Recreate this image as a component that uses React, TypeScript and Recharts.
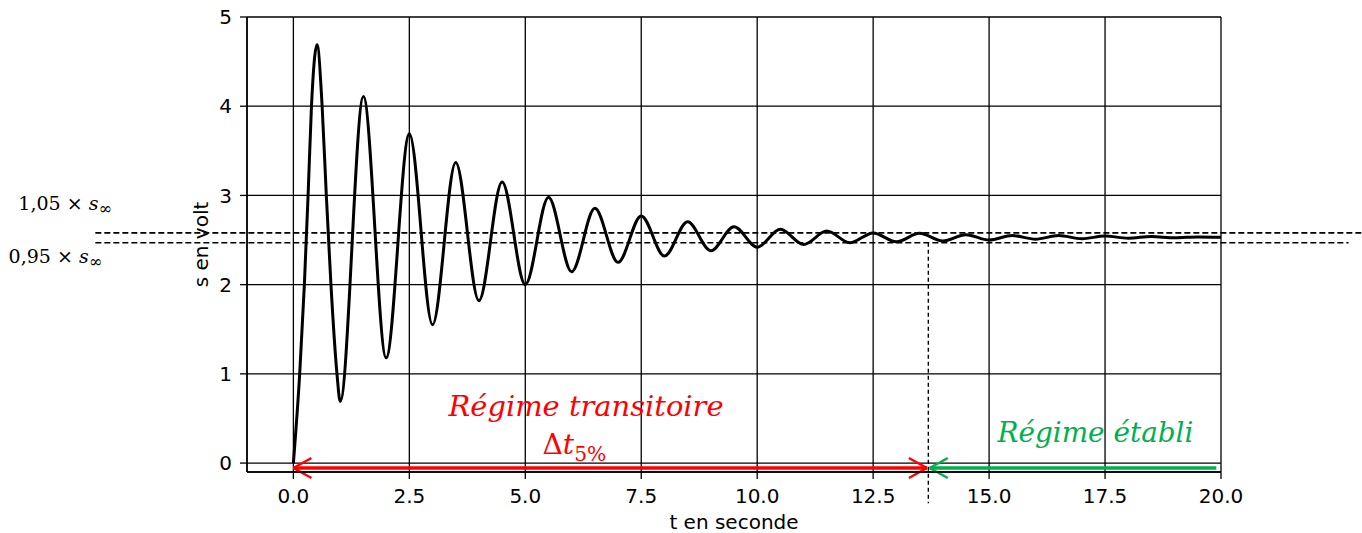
import React from "react"
import { LineChart, Line, XAxis, YAxis, CartesianGrid, ReferenceLine, ReferenceDot } from "recharts"

// peaks, troughs and a few points on the first swing
const timeValues = [
  0, 0.136, 0.237, 0.317, 0.39, 0.51, 0.62, 0.71, 0.81, 0.94, 1.01,
  1.51, 2.0, 2.5, 3.0, 3.5, 4.0, 4.5, 5.0, 5.5, 6.0, 6.5, 7.0, 7.5, 8.0,
  8.5, 9.0, 9.5, 10.0, 10.5, 11.0, 11.5, 12.0, 12.5, 13.0, 13.5, 14.0,
  14.5, 15.0, 15.5, 16.0, 16.5, 17.0, 17.5, 18.0, 18.5, 19.0, 19.5, 20.0,
]
const signalValues = [
  0, 1.0, 2.0, 3.0, 4.0, 4.69, 4.0, 3.0, 2.0, 1.0, 0.69,
  4.11, 1.18, 3.69, 1.55, 3.37, 1.82, 3.15, 2.0, 2.98, 2.145, 2.855, 2.25, 2.77, 2.32,
  2.705, 2.38, 2.65, 2.42, 2.62, 2.45, 2.6, 2.47, 2.58, 2.48, 2.575, 2.49,
  2.56, 2.5, 2.55, 2.51, 2.55, 2.515, 2.545, 2.52, 2.54, 2.525, 2.535, 2.53,
]
const xTicks = [0, 2.5, 5, 7.5, 10, 12.5, 15, 17.5, 20]
const yTicks = [0, 1, 2, 3, 4, 5]

const bandHigh = 2.58
const bandLow = 2.47
const settlingTime = 13.69

const data = timeValues.map((t, i) => ({ t, s: signalValues[i] }))

const RED = "#ff0000"
const GREEN = "#00b050"
const SERIF = "'DejaVu Serif', serif"
const SANS = "'DejaVu Sans', sans-serif"

type Part = { t: string; italic?: boolean; sub?: boolean }

function MathNote(props: any) {
  const { viewBox, parts, fs, color, w, anchor = "start", subScale = 0.72 } = props
  if (!viewBox) return null
  let cur = 0
  return (
    <text
      x={viewBox.x}
      y={viewBox.y}
      textAnchor={anchor}
      fontFamily={SERIF}
      fontSize={fs}
      fill={color}
      textLength={w}
      lengthAdjust={w ? "spacingAndGlyphs" : undefined}
    >
      {(parts as Part[]).map((p, i) => {
        const target = p.sub ? fs * 0.24 : 0
        const dy = target - cur
        cur = target
        return (
          <tspan
            key={i}
            dy={dy}
            fontStyle={p.italic ? "italic" : "normal"}
            fontSize={p.sub ? fs * subScale : fs}
          >
            {p.t}
          </tspan>
        )
      })}
    </text>
  )
}

function arrowHead(tipX: number, tipY: number, dir: number, color: string, key: string) {
  const dx = 0.39 * dir
  const dy = 0.112
  return [
    <ReferenceLine key={key + "a"} segment={[{ x: tipX, y: tipY }, { x: tipX + dx, y: tipY + dy }]}
      stroke={color} strokeWidth={2.5} ifOverflow="visible" />,
    <ReferenceLine key={key + "b"} segment={[{ x: tipX, y: tipY }, { x: tipX + dx, y: tipY - dy }]}
      stroke={color} strokeWidth={2.5} ifOverflow="visible" />,
  ]
}

export default function App() {
  const arrowY = -0.055
  return (
    <div style={{ position: "absolute", left: 0, top: 0 }}>
      <LineChart width={1362} height={533} data={data} margin={{ top: 17, right: 141, bottom: 0, left: 187 }}>
        <CartesianGrid stroke="#000" strokeWidth={1.3} />
        <XAxis
          dataKey="t"
          type="number"
          domain={[-1, 20]}
          ticks={xTicks}
          interval={0}
          allowDataOverflow
          height={61}
          tickFormatter={(v: number) => v.toFixed(1)}
          tick={{ fill: "#000", fontSize: 20, fontFamily: SANS }}
          tickSize={7}
          tickMargin={10}
          axisLine={{ stroke: "#000", strokeWidth: 1.5 }}
          tickLine={{ stroke: "#000", strokeWidth: 1.3 }}
          label={{
            content: (p: any) => (
              <text x={p.viewBox.x + p.viewBox.width / 2} y={p.viewBox.y + 57} textAnchor="middle"
                fontSize={20} fontFamily={SANS} fill="#000">t en seconde</text>
            ),
          }}
        />
        <YAxis
          type="number"
          domain={[-0.1, 5]}
          ticks={yTicks}
          interval={0}
          allowDataOverflow
          width={60}
          tick={{ fill: "#000", fontSize: 20, fontFamily: SANS }}
          tickSize={7}
          tickMargin={8}
          axisLine={{ stroke: "#000", strokeWidth: 1.5 }}
          tickLine={{ stroke: "#000", strokeWidth: 1.3 }}
          label={{
            content: (p: any) => {
              const x = p.viewBox.x + 14
              const y = p.viewBox.y + p.viewBox.height / 2
              return (
                <text x={x} y={y} transform={`rotate(-90 ${x} ${y})`} textAnchor="middle"
                  dominantBaseline="central" fontSize={20} fontFamily={SANS} fill="#000">s en volt</text>
              )
            },
          }}
        />

        {/* 5% band */}
        <ReferenceLine segment={[{ x: -4.27, y: bandHigh }, { x: 23.05, y: bandHigh }]}
          stroke="#000" strokeWidth={1.6} strokeDasharray="6 3" ifOverflow="visible" />
        <ReferenceLine segment={[{ x: -4.27, y: bandLow }, { x: 22.75, y: bandLow }]}
          stroke="#000" strokeWidth={1.6} strokeDasharray="6 3" ifOverflow="visible" />
        <ReferenceLine segment={[{ x: settlingTime, y: bandLow }, { x: settlingTime, y: -0.45 }]}
          stroke="#000" strokeWidth={1.4} strokeDasharray="4 3" ifOverflow="visible" />

        <Line type="monotone" dataKey="s" stroke="#000" strokeWidth={3} dot={false} isAnimationActive={false} />

        {/* transient arrow */}
        <ReferenceLine segment={[{ x: 0, y: arrowY }, { x: settlingTime - 0.03, y: arrowY }]}
          stroke={RED} strokeWidth={3.5} ifOverflow="visible" />
        {arrowHead(0, arrowY, 1, RED, "rl")}
        {arrowHead(settlingTime - 0.03, arrowY, -1, RED, "rr")}

        {/* steady state arrow */}
        <ReferenceLine segment={[{ x: settlingTime + 0.03, y: arrowY }, { x: 19.9, y: arrowY }]}
          stroke={GREEN} strokeWidth={3.5} ifOverflow="visible" />
        {arrowHead(settlingTime + 0.03, arrowY, 1, GREEN, "gl")}

        {/* notes */}
        <ReferenceDot x={6.31} y={0.527} r={0} fill="none" stroke="none" ifOverflow="visible"
          label={<MathNote parts={[{ t: "Régime transitoire", italic: true }]} fs={28} color={RED} w={275} anchor="middle" />} />
        <ReferenceDot x={5.37} y={0.1} r={0} fill="none" stroke="none" ifOverflow="visible"
          label={<MathNote parts={[{ t: "Δ" }, { t: "t", italic: true }, { t: "5%", sub: true }]} fs={28} color={RED} w={64} />} />
        <ReferenceDot x={15.18} y={0.239} r={0} fill="none" stroke="none" ifOverflow="visible"
          label={<MathNote parts={[{ t: "Régime établi", italic: true }]} fs={28} color={GREEN} w={196} />} />
        <ReferenceDot x={-5.93} y={2.84} r={0} fill="none" stroke="none" ifOverflow="visible"
          label={<MathNote parts={[{ t: "1,05 × " }, { t: "s", italic: true }, { t: "∞", sub: true }]} fs={19} subScale={0.85} color="#000" />} />
        <ReferenceDot x={-6.14} y={2.246} r={0} fill="none" stroke="none" ifOverflow="visible"
          label={<MathNote parts={[{ t: "0,95 × " }, { t: "s", italic: true }, { t: "∞", sub: true }]} fs={19} subScale={0.85} color="#000" />} />
      </LineChart>
    </div>
  )
}
